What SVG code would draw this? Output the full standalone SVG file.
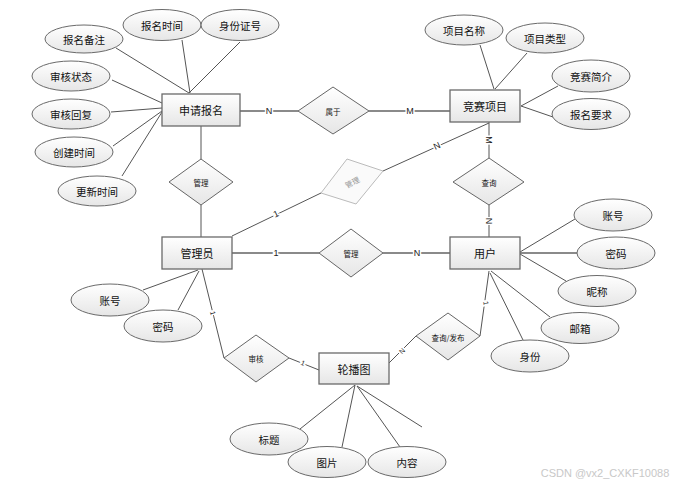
<svg xmlns="http://www.w3.org/2000/svg" width="686" height="487" viewBox="0 0 686 487">
<defs>
<linearGradient id="g" x1="0" y1="0" x2="0" y2="1">
<stop offset="0" stop-color="#ffffff"/>
<stop offset="1" stop-color="#e6e6e6"/>
</linearGradient>
<style>
.ent rect{fill:url(#g);stroke:#6a6a6a;stroke-width:1.3}
.att ellipse{fill:url(#g);stroke:#6a6a6a;stroke-width:1}
.rel polygon{fill:url(#g);stroke:#666;stroke-width:1}
text{font-family:"Noto Sans CJK SC","Liberation Sans",sans-serif;fill:#111;text-anchor:middle;dominant-baseline:central}
.et{font-size:11px}
.at{font-size:10.5px}
.rt{font-size:7.5px}
.ln line{stroke:#555;stroke-width:1}
.ln .thick{stroke:#8a8a8a;stroke-width:1.8}
.card{font-family:"Liberation Sans",sans-serif;font-size:9px;stroke:#fff;stroke-width:3;paint-order:stroke;fill:#222}
</style>
</defs>
<rect width="686" height="487" fill="#fff"/>
<g id="connectors" class="ln">
<line x1="116" y1="48" x2="189" y2="93"/>
<line x1="182" y1="40" x2="190" y2="93"/>
<line x1="240" y1="42" x2="189" y2="93"/>
<line x1="112" y1="80" x2="162" y2="103"/>
<line x1="111" y1="112" x2="162" y2="108"/>
<line x1="113" y1="146" x2="162" y2="111"/>
<line x1="122" y1="176" x2="162" y2="112"/>
<line class="thick" x1="240" y1="111" x2="298" y2="111"/>
<line class="thick" x1="369" y1="111" x2="450" y2="111"/>
<line x1="201" y1="126" x2="201" y2="159"/>
<line x1="201" y1="205" x2="201" y2="237"/>
<line x1="480" y1="45" x2="494" y2="89"/>
<line x1="527" y1="53" x2="495" y2="89"/>
<line x1="558" y1="86" x2="521" y2="106"/>
<line x1="553" y1="117" x2="521" y2="106"/>
<line x1="489" y1="122" x2="489" y2="158"/>
<line x1="489" y1="205" x2="489" y2="237"/>
<line x1="489" y1="123" x2="383" y2="171"/>
<line x1="321" y1="193" x2="232" y2="236"/>
<line class="thick" x1="232" y1="253" x2="319" y2="253"/>
<line class="thick" x1="383" y1="253" x2="450" y2="253"/>
<line x1="143" y1="290" x2="198" y2="270"/>
<line x1="178" y1="310" x2="199" y2="271"/>
<line x1="202" y1="269" x2="224" y2="358"/>
<line x1="289" y1="358" x2="319" y2="370"/>
<line x1="575" y1="219" x2="520" y2="252"/>
<line class="thick" x1="577" y1="253" x2="520" y2="253"/>
<line x1="566" y1="281" x2="520" y2="254"/>
<line x1="550" y1="317" x2="491" y2="271"/>
<line x1="523" y1="340" x2="490" y2="273"/>
<line x1="489" y1="271" x2="480" y2="336"/>
<line x1="416" y1="336" x2="389" y2="363"/>
<line x1="300" y1="429" x2="355" y2="385"/>
<line x1="342" y1="447" x2="355" y2="385"/>
<line x1="400" y1="447" x2="357" y2="386"/>
<line x1="357" y1="386" x2="422" y2="427"/>
<text class="card" x="269" y="111">N</text>
<text class="card" x="410" y="111">M</text>
<text class="card" transform="translate(489,140) rotate(90)" x="0" y="0">M</text>
<text class="card" transform="translate(489,221) rotate(90)" x="0" y="0">N</text>
<text class="card" transform="translate(437,146) rotate(-25)" x="0" y="0">N</text>
<text class="card" transform="translate(276,214) rotate(-25)" x="0" y="0">1</text>
<text class="card" x="276" y="253">1</text>
<text class="card" x="417" y="253">N</text>
<text class="card" transform="translate(213,313) rotate(76)" x="0" y="0" style="font-size:7px">1</text>
<text class="card" transform="translate(303,363) rotate(22)" x="0" y="0" style="font-size:7px">1</text>
<text class="card" transform="translate(486,303) rotate(82)" x="0" y="0" style="font-size:7px">1</text>
<text class="card" transform="translate(402,351) rotate(-45)" x="0" y="0" style="font-size:7px">N</text>
</g>
<g id="e-shenqing" class="ent"><rect x="162" y="94" width="78" height="32"/><text class="et" x="201" y="110">申请报名</text></g>
<g id="e-jingsai" class="ent"><rect x="450" y="90" width="70" height="32"/><text class="et" x="485" y="106">竞赛项目</text></g>
<g id="e-guanliyuan" class="ent"><rect x="162" y="237" width="70" height="32"/><text class="et" x="197" y="253">管理员</text></g>
<g id="e-yonghu" class="ent"><rect x="450" y="237" width="70" height="32"/><text class="et" x="485" y="253">用户</text></g>
<g id="e-lunbotu" class="ent"><rect x="319" y="353" width="70" height="31"/><text class="et" x="354" y="369">轮播图</text></g>
<g id="r-shuyu" class="rel"><polygon points="298,111 333,87 369,111 333,134"/><text class="rt" x="333" y="111">属于</text></g>
<g id="r-guanli1" class="rel"><polygon points="169,182 201,159 233,182 201,205"/><text class="rt" x="201" y="182">管理</text></g>
<g id="r-guanli-grey" class="rel"><polygon points="321,193 347,159 383,171 356,204" style="stroke:#bbb;fill:#fafafa"/><text class="rt" transform="translate(352,182) rotate(-28)" x="0" y="0" style="fill:#999">管理</text></g>
<g id="r-chaxun" class="rel"><polygon points="453,182 489,158 524,182 489,205"/><text class="rt" x="489" y="182">查询</text></g>
<g id="r-guanli2" class="rel"><polygon points="319,253 351,229 383,253 351,277"/><text class="rt" x="351" y="253">管理</text></g>
<g id="r-shenhe" class="rel"><polygon points="224,358 256,335 289,358 256,382"/><text class="rt" x="256" y="358">审核</text></g>
<g id="r-fabu" class="rel"><polygon points="416,336 448,313 480,336 448,360"/><text class="rt" x="448" y="337">查询/发布</text></g>
<g id="a-bmbz" class="att"><ellipse cx="84" cy="39" rx="39" ry="14"/><text class="at" x="84" y="39">报名备注</text></g>
<g id="a-bmsj" class="att"><ellipse cx="162" cy="25" rx="39" ry="15.5"/><text class="at" x="162" y="25">报名时间</text></g>
<g id="a-sfzh" class="att"><ellipse cx="240" cy="25" rx="39" ry="15.5"/><text class="at" x="240" y="25">身份证号</text></g>
<g id="a-shzt" class="att"><ellipse cx="71" cy="76" rx="39" ry="15"/><text class="at" x="71" y="76">审核状态</text></g>
<g id="a-shhf" class="att"><ellipse cx="71" cy="114" rx="39" ry="15"/><text class="at" x="71" y="114">审核回复</text></g>
<g id="a-cjsj" class="att"><ellipse cx="74" cy="152" rx="39" ry="15"/><text class="at" x="74" y="152">创建时间</text></g>
<g id="a-gxsj" class="att"><ellipse cx="97" cy="191" rx="39" ry="15"/><text class="at" x="97" y="191">更新时间</text></g>
<g id="a-xmmc" class="att"><ellipse cx="464" cy="30" rx="39" ry="15"/><text class="at" x="464" y="30">项目名称</text></g>
<g id="a-xmlx" class="att"><ellipse cx="545" cy="38" rx="39" ry="15"/><text class="at" x="545" y="38">项目类型</text></g>
<g id="a-jsjj" class="att"><ellipse cx="591" cy="76" rx="39" ry="16"/><text class="at" x="591" y="76">竞赛简介</text></g>
<g id="a-bmyq" class="att"><ellipse cx="591" cy="114" rx="39" ry="15.5"/><text class="at" x="591" y="114">报名要求</text></g>
<g id="a-gly-zh" class="att"><ellipse cx="110" cy="300" rx="39" ry="16"/><text class="at" x="110" y="300">账号</text></g>
<g id="a-gly-mm" class="att"><ellipse cx="163" cy="326" rx="39" ry="16"/><text class="at" x="163" y="326">密码</text></g>
<g id="a-yh-zh" class="att"><ellipse cx="613" cy="215" rx="39" ry="16"/><text class="at" x="613" y="215">账号</text></g>
<g id="a-yh-mm" class="att"><ellipse cx="616" cy="253" rx="39" ry="16"/><text class="at" x="616" y="253">密码</text></g>
<g id="a-nc" class="att"><ellipse cx="597" cy="291" rx="39" ry="15.5"/><text class="at" x="597" y="291">昵称</text></g>
<g id="a-yx" class="att"><ellipse cx="580" cy="328" rx="39" ry="15.5"/><text class="at" x="580" y="328">邮箱</text></g>
<g id="a-sf" class="att"><ellipse cx="530" cy="356" rx="39" ry="16"/><text class="at" x="530" y="356">身份</text></g>
<g id="a-bt" class="att"><ellipse cx="269" cy="439" rx="39" ry="16"/><text class="at" x="269" y="439">标题</text></g>
<g id="a-tp" class="att"><ellipse cx="327" cy="462" rx="39" ry="15.5"/><text class="at" x="327" y="462">图片</text></g>
<g id="a-nr" class="att"><ellipse cx="407" cy="462" rx="39" ry="15.5"/><text class="at" x="407" y="462">内容</text></g>
<text x="605" y="473" style="font-family:'Liberation Sans',sans-serif;font-size:11px;fill:#c8c8c8">CSDN @vx2_CXKF10088</text>
</svg>
